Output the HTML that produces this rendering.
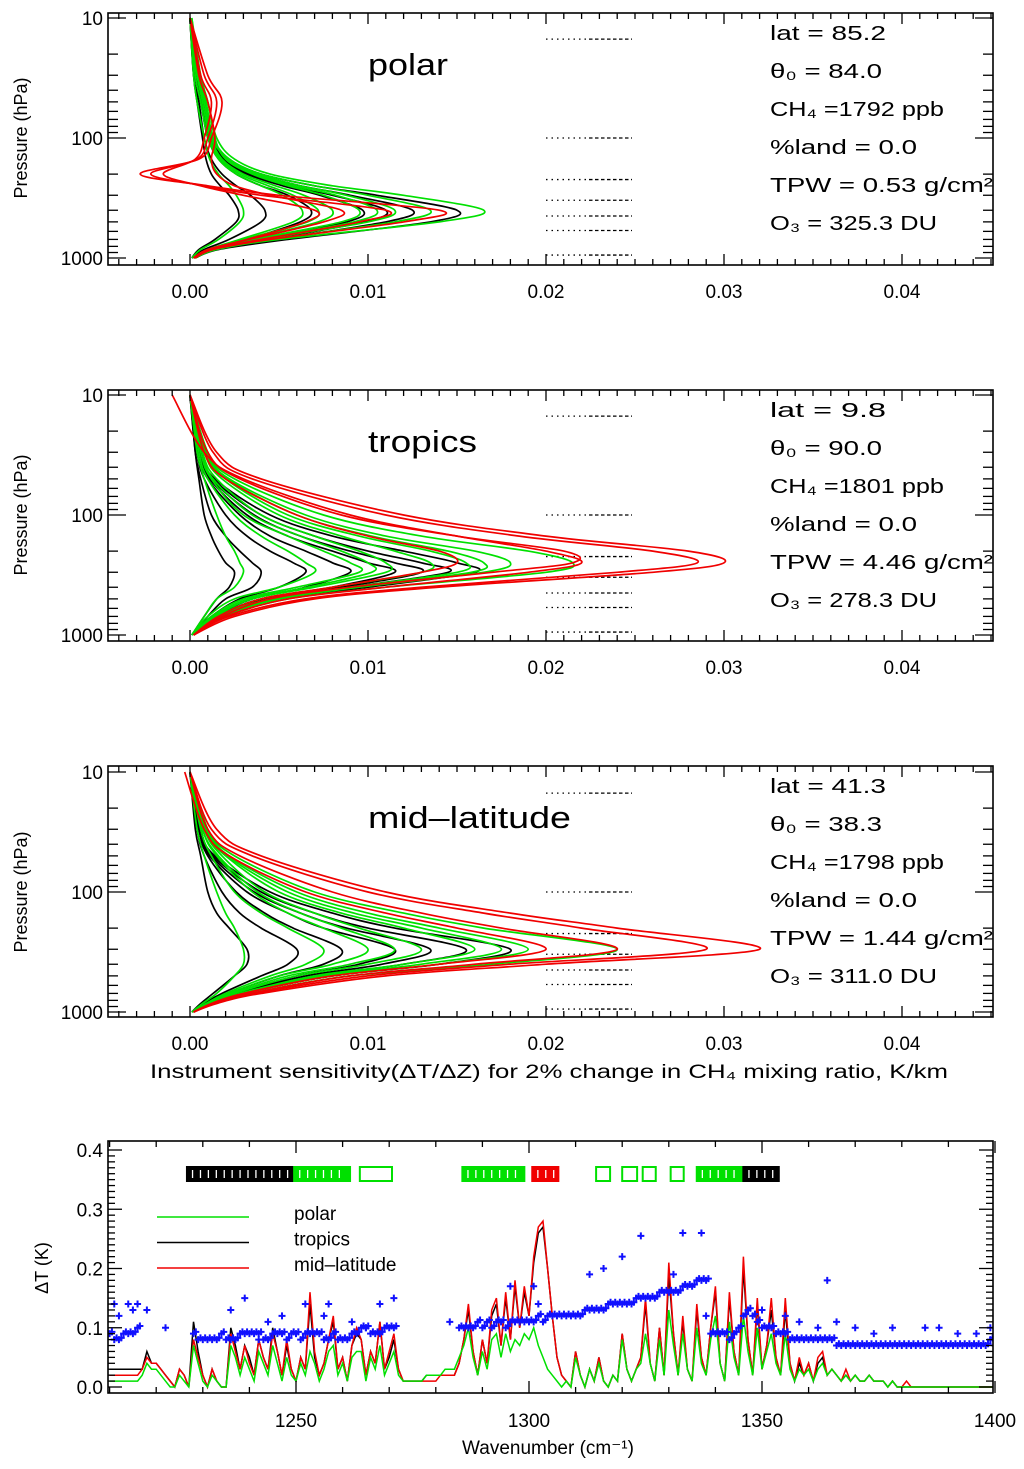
<!DOCTYPE html>
<html><head><meta charset="utf-8"><title>CH4 sensitivity</title>
<style>
html,body{margin:0;padding:0;background:#fff;}
svg{display:block;font-family:"Liberation Sans",sans-serif;}
text{fill:#000;}
</style></head>
<body>
<svg id="chart" xmlns="http://www.w3.org/2000/svg" width="1024" height="1469" viewBox="0 0 1024 1469"></svg>
<script>
// ---------------- DATA ----------------
const polarLevels=[10,30,50,100,150,200,250,300,400,500,700,850,1000];
const tropicsLevels=[10,30,50,100,150,200,250,300,400,500,700,1000];
const midlatLevels=[10,30,50,100,150,200,300,400,500,700,850,1000];

const polarGreen=[
[0,.0005,.0010,.0015,.0025,.0045,.0080,.0120,.0165,.0140,.0050,.0015,.0003],
[0,.0004,.0008,.0012,.0022,.0040,.0070,.0100,.0135,.0115,.0045,.0013,.0003],
[.0001,.0005,.0009,.0013,.0022,.0038,.0062,.0088,.0115,.0100,.0040,.0012,.0003],
[.0001,.0006,.0010,.0014,.0020,.0035,.0055,.0075,.0095,.0085,.0035,.0011,.0002],
[0,.0004,.0008,.0012,.0018,.0030,.0048,.0064,.0080,.0072,.0032,.0010,.0002],
[0,.0003,.0006,.0010,.0016,.0026,.0040,.0052,.0063,.0058,.0028,.0010,.0002],
[0,.0004,.0007,.0011,.0017,.0028,.0044,.0058,.0072,.0066,.0030,.0010,.0002],
[0,.0005,.0009,.0013,.0021,.0036,.0058,.0082,.0105,.0092,.0038,.0012,.0002],
[0,.0002,.0004,.0008,.0011,.0016,.0022,.0026,.0030,.0028,.0016,.0006,.0001]];
const polarBlack=[
[0,.0003,.0008,.0013,.0022,.0040,.0070,.0105,.0150,.0135,.0055,.0016,.0003],
[0,.0004,.0008,.0012,.0020,.0037,.0062,.0090,.0125,.0110,.0048,.0014,.0003],
[0,.0003,.0007,.0011,.0018,.0032,.0052,.0073,.0097,.0088,.0040,.0012,.0002],
[0,.0004,.0007,.0011,.0019,.0034,.0056,.0080,.0110,.0098,.0044,.0013,.0002],
[0,.0003,.0006,.0010,.0016,.0026,.0040,.0055,.0068,.0062,.0032,.0010,.0002],
[0,.0002,.0005,.0008,.0012,.0018,.0026,.0034,.0042,.0040,.0022,.0008,.0001],
[0,.0002,.0004,.0007,.0009,.0012,.0017,.0022,.0027,.0026,.0014,.0005,.0001]];
const polarRed=[
[0,.0010,.0018,.0012,.0005,-.0028,.0010,.0050,.0140,.0120,.0045,.0013,.0003],
[0,.0008,.0015,.0010,.0004,-.0022,.0008,.0040,.0110,.0095,.0040,.0011,.0002],
[0,.0006,.0012,.0008,.0003,-.0015,.0006,.0030,.0070,.0065,.0032,.0010,.0002],
[0,.0005,.0010,.0014,.0012,.0015,.0025,.0045,.0085,.0075,.0033,.0010,.0002]];

const tropicsRed=[
[0.0000,0.0015,0.0040,0.0120,0.0200,0.0280,0.0300,0.0260,0.0140,0.0070,0.0025,0.0002],
[0.0000,0.0013,0.0035,0.0110,0.0185,0.0260,0.0285,0.0240,0.0130,0.0065,0.0022,0.0002],
[-0.0010,0.0008,0.0030,0.0090,0.0150,0.0200,0.0220,0.0190,0.0110,0.0055,0.0020,0.0002],
[0.0000,0.0010,0.0028,0.0085,0.0150,0.0210,0.0215,0.0170,0.0090,0.0045,0.0018,0.0002],
[0.0000,0.0008,0.0020,0.0060,0.0100,0.0140,0.0150,0.0130,0.0080,0.0040,0.0016,0.0002]];
const tropicsGreen=[
[0.0000,0.0010,0.0025,0.0075,0.0130,0.0190,0.0215,0.0200,0.0110,0.0055,0.0020,0.0002],
[0.0000,0.0010,0.0022,0.0065,0.0110,0.0160,0.0180,0.0165,0.0095,0.0050,0.0018,0.0002],
[0.0000,0.0008,0.0020,0.0055,0.0095,0.0135,0.0155,0.0150,0.0090,0.0045,0.0016,0.0002],
[0.0000,0.0009,0.0021,0.0060,0.0102,0.0145,0.0165,0.0158,0.0092,0.0047,0.0017,0.0002],
[0.0000,0.0008,0.0018,0.0050,0.0085,0.0115,0.0135,0.0130,0.0080,0.0040,0.0015,0.0002],
[0.0000,0.0007,0.0015,0.0040,0.0070,0.0095,0.0110,0.0110,0.0070,0.0035,0.0014,0.0002],
[0.0000,0.0007,0.0013,0.0035,0.0062,0.0085,0.0100,0.0102,0.0066,0.0033,0.0013,0.0002],
[0.0000,0.0006,0.0012,0.0030,0.0055,0.0075,0.0090,0.0095,0.0060,0.0030,0.0012,0.0001],
[0.0000,0.0005,0.0010,0.0025,0.0040,0.0055,0.0065,0.0070,0.0050,0.0025,0.0010,0.0001],
[0.0000,0.0004,0.0008,0.0015,0.0020,0.0025,0.0028,0.0030,0.0025,0.0015,0.0008,0.0001]];
const tropicsBlack=[
[0.0000,0.0006,0.0014,0.0045,0.0080,0.0120,0.0150,0.0160,0.0100,0.0050,0.0018,0.0002],
[0.0000,0.0006,0.0013,0.0040,0.0070,0.0100,0.0130,0.0145,0.0090,0.0045,0.0016,0.0002],
[0.0000,0.0006,0.0012,0.0036,0.0062,0.0090,0.0115,0.0130,0.0085,0.0042,0.0016,0.0002],
[0.0000,0.0005,0.0011,0.0032,0.0055,0.0080,0.0100,0.0115,0.0080,0.0040,0.0015,0.0002],
[0.0000,0.0005,0.0010,0.0028,0.0045,0.0065,0.0080,0.0090,0.0065,0.0035,0.0014,0.0002],
[0.0000,0.0004,0.0008,0.0020,0.0032,0.0045,0.0058,0.0065,0.0050,0.0028,0.0012,0.0001],
[0.0000,0.0003,0.0006,0.0012,0.0020,0.0028,0.0035,0.0040,0.0035,0.0020,0.0010,0.0001],
[0.0000,0.0003,0.0005,0.0008,0.0012,0.0016,0.0020,0.0025,0.0022,0.0015,0.0008,0.0001]];

const midlatRed=[
[0.0000,0.0015,0.0040,0.0110,0.0180,0.0240,0.0320,0.0200,0.0110,0.0040,0.0015,0.0002],
[0.0000,0.0012,0.0035,0.0100,0.0165,0.0220,0.0290,0.0180,0.0100,0.0036,0.0014,0.0002],
[0.0000,0.0010,0.0028,0.0080,0.0130,0.0175,0.0240,0.0160,0.0090,0.0034,0.0013,0.0002],
[-0.0003,0.0008,0.0022,0.0065,0.0110,0.0150,0.0200,0.0140,0.0080,0.0030,0.0012,0.0002]];
const midlatGreen=[
[0.0000,0.0010,0.0025,0.0070,0.0120,0.0165,0.0240,0.0170,0.0090,0.0034,0.0013,0.0002],
[0.0000,0.0010,0.0022,0.0060,0.0100,0.0140,0.0190,0.0140,0.0080,0.0030,0.0012,0.0002],
[0.0000,0.0009,0.0021,0.0055,0.0092,0.0130,0.0175,0.0130,0.0075,0.0029,0.0012,0.0002],
[0.0000,0.0008,0.0020,0.0050,0.0085,0.0120,0.0160,0.0120,0.0070,0.0028,0.0011,0.0002],
[0.0000,0.0008,0.0018,0.0042,0.0070,0.0095,0.0130,0.0100,0.0060,0.0025,0.0010,0.0002],
[0.0000,0.0007,0.0016,0.0038,0.0062,0.0085,0.0115,0.0090,0.0055,0.0024,0.0010,0.0002],
[0.0000,0.0007,0.0015,0.0035,0.0055,0.0075,0.0100,0.0080,0.0050,0.0022,0.0010,0.0001],
[0.0000,0.0006,0.0012,0.0025,0.0040,0.0055,0.0075,0.0065,0.0045,0.0020,0.0009,0.0001],
[0.0000,0.0004,0.0008,0.0015,0.0020,0.0025,0.0030,0.0030,0.0025,0.0015,0.0007,0.0001]];
const midlatBlack=[
[0.0000,0.0006,0.0014,0.0045,0.0080,0.0115,0.0180,0.0140,0.0080,0.0030,0.0012,0.0002],
[0.0000,0.0006,0.0013,0.0040,0.0070,0.0100,0.0155,0.0120,0.0070,0.0028,0.0011,0.0002],
[0.0000,0.0006,0.0012,0.0036,0.0062,0.0088,0.0135,0.0108,0.0065,0.0026,0.0010,0.0002],
[0.0000,0.0005,0.0011,0.0032,0.0055,0.0075,0.0115,0.0095,0.0060,0.0025,0.0010,0.0002],
[0.0000,0.0005,0.0010,0.0026,0.0042,0.0058,0.0085,0.0075,0.0050,0.0022,0.0009,0.0001],
[0.0000,0.0004,0.0008,0.0018,0.0028,0.0040,0.0060,0.0055,0.0040,0.0018,0.0008,0.0001],
[0.0000,0.0003,0.0006,0.0010,0.0015,0.0022,0.0032,0.0032,0.0025,0.0013,0.0006,0.0001]];

const refPressures=[15,100,222,330,447,590,945];
const xTickLabels=["0.00","0.01","0.02","0.03","0.04"];
const xTickValues=[0,0.01,0.02,0.03,0.04];
const pTickLabels=["10","100","1000"];
const pTickValues=[10,100,1000];

const polarInfo=["lat = 85.2","θ₀ = 84.0","CH₄ =1792 ppb","%land =   0.0","TPW =  0.53 g/cm²","O₃ = 325.3 DU"];
const tropicsInfo=["lat =   9.8","θ₀ = 90.0","CH₄ =1801 ppb","%land =   0.0","TPW =  4.46 g/cm²","O₃ = 278.3 DU"];
const midlatInfo=["lat = 41.3","θ₀ = 38.3","CH₄ =1798 ppb","%land =   0.0","TPW =  1.44 g/cm²","O₃ = 311.0 DU"];

// spectrum: wavenumber 1210..1400 step 1
const specStart=1210;
const specRed=[.02,.02,.02,.02,.02,.02,.02,.03,.05,.04,
.04,.03,.02,.01,.00,.03,.02,.00,.08,.05,
.02,.00,.03,.01,.00,.00,.09,.06,.03,.07,
.04,.02,.08,.05,.03,.09,.06,.02,.08,.03,
.01,.05,.03,.16,.06,.02,.04,.08,.12,.03,
.05,.01,.07,.10,.08,.02,.06,.04,.11,.03,
.06,.09,.03,.01,.01,.01,.01,.01,.01,.01,
.01,.02,.02,.02,.02,.04,.08,.14,.06,.02,
.08,.04,.13,.15,.07,.16,.08,.18,.10,.17,
.12,.22,.27,.28,.20,.12,.05,.02,.01,.00,
.06,.02,.00,.03,.01,.05,.01,.00,.02,.01,
.09,.03,.01,.03,.05,.15,.04,.01,.10,.02,
.21,.09,.02,.12,.03,.01,.14,.05,.02,.10,
.17,.04,.01,.16,.06,.02,.22,.08,.02,.15,
.03,.07,.15,.05,.02,.15,.04,.01,.05,.02,
.04,.01,.05,.06,.02,.03,.02,.01,.03,.01,
.02,.01,.01,.02,.01,.01,.01,.00,.01,.00,
.00,.01,.00,.00,.00,.00,.00,.00,.00,.00,
.00,.00,.00,.00,.00,.00,.00,.00,.00,.00,.00];
const specBlack=[.03,.03,.03,.03,.03,.03,.03,.03,.06,.04,
.04,.03,.02,.01,.00,.03,.02,.00,.11,.06,
.02,.00,.03,.01,.00,.00,.10,.07,.03,.07,
.05,.02,.08,.05,.03,.10,.06,.02,.07,.03,
.01,.05,.03,.14,.05,.02,.04,.08,.11,.03,
.05,.01,.07,.09,.08,.02,.06,.04,.11,.03,
.05,.08,.03,.01,.01,.01,.01,.01,.02,.02,
.02,.02,.02,.02,.02,.04,.08,.13,.06,.02,
.08,.04,.12,.14,.07,.15,.08,.17,.10,.16,
.12,.21,.26,.27,.20,.12,.05,.02,.01,.00,
.06,.02,.00,.03,.01,.05,.01,.00,.02,.01,
.09,.03,.01,.03,.05,.14,.04,.01,.10,.02,
.19,.09,.02,.11,.03,.01,.13,.05,.02,.10,
.16,.04,.01,.15,.06,.02,.20,.08,.02,.14,
.03,.07,.13,.05,.02,.13,.04,.01,.04,.02,
.04,.01,.04,.05,.02,.03,.02,.01,.02,.01,
.02,.01,.01,.02,.01,.01,.01,.00,.01,.00,
.00,.00,.00,.00,.00,.00,.00,.00,.00,.00,
.00,.00,.00,.00,.00,.00,.00,.00,.00,.00,.00];
const specGreen=[.01,.01,.01,.01,.01,.01,.01,.02,.04,.03,
.03,.02,.01,.00,.00,.02,.01,.00,.07,.04,
.01,.00,.02,.01,.00,.00,.07,.05,.02,.05,
.03,.01,.06,.04,.02,.07,.04,.01,.05,.02,
.01,.04,.02,.06,.04,.01,.03,.06,.07,.02,
.04,.01,.05,.06,.06,.01,.05,.03,.07,.02,
.04,.06,.02,.01,.01,.01,.01,.01,.02,.02,
.02,.02,.03,.03,.03,.05,.07,.10,.05,.02,
.06,.03,.08,.09,.05,.09,.06,.08,.07,.09,
.08,.10,.07,.05,.03,.02,.01,.00,.01,.00,
.05,.02,.00,.03,.01,.04,.01,.00,.02,.01,
.08,.03,.01,.03,.04,.09,.04,.01,.08,.02,
.13,.07,.02,.09,.03,.01,.10,.04,.02,.08,
.12,.04,.01,.11,.05,.02,.12,.06,.02,.10,
.03,.06,.09,.04,.02,.09,.03,.01,.03,.02,
.03,.01,.03,.04,.02,.03,.02,.01,.02,.01,
.02,.01,.01,.02,.01,.01,.01,.00,.01,.00,
.00,.00,.00,.00,.00,.00,.00,.00,.00,.00,
.00,.00,.00,.00,.00,.00,.00,.00,.00,.00,.00];
const n=null;
const blueBand=[.09,.08,.08,.09,.09,.09,.10,n,n,n,
n,n,n,n,n,n,n,n,.09,.08,
.08,.08,.08,.08,.09,.08,.08,.08,.09,.09,
.09,.09,.09,.08,.08,.09,.09,.09,.08,.09,
.09,.08,.09,.09,.09,.09,.08,.08,.09,.08,
.08,.08,.09,.09,.10,.10,.09,.09,.09,.10,
.10,.10,n,n,n,n,n,n,n,n,
n,n,n,n,n,.10,.10,.10,.10,.11,
.10,.11,.10,.11,.11,.10,.11,.11,.11,.11,
.11,.11,.12,.11,.12,.12,.12,.12,.12,.12,
.12,.12,.13,.13,.13,.13,.13,.14,.14,.14,
.14,.14,.14,.15,.15,.15,.15,.15,.16,.16,
.16,.16,.16,.17,.17,.17,.18,.18,.18,.09,
.09,.09,.09,.08,.09,.10,.12,.13,.12,.11,
.10,.10,.10,.09,.09,.09,.08,.08,.08,.08,
.08,.08,.08,.08,.08,.08,.07,.07,.07,.07,
.07,.07,.07,.07,.07,.07,.07,.07,.07,.07,
.07,.07,.07,.07,.07,.07,.07,.07,.07,.07,
.07,.07,.07,.07,.07,.07,.07,.07,.07,.08,.07];
const blueOutW=[1211,1212,1214,1215,1216,1218,1222,1236,1239,1242,1244,1247,1252,1256,1257,1262,1265,1268,1271,1283,1296,1301,1302,1313,1316,1320,1324,1331,1333,1337,1338,1350,1355,1358,1362,1364,1366,1370,1374,1378,1385,1388,1392,1396,1399];
const blueOutV=[.14,.12,.14,.13,.14,.13,.10,.13,.15,.08,.11,.12,.14,.12,.14,.11,.10,.14,.15,.11,.17,.17,.14,.19,.20,.22,.255,.19,.26,.26,.12,.13,.12,.11,.10,.18,.11,.10,.09,.10,.10,.10,.09,.09,.10];
const chanStart=[1226.6,1249.6,1263.7,1285.7,1300.7,1314.4,1320.0,1324.4,1330.4,1336.0,1346.0];
const chanEnd=[1249.6,1261.6,1270.6,1299.0,1306.3,1317.4,1323.2,1327.2,1333.2,1346.0,1353.6];
const chanColor=["#000","#00e000","#00e000","#00e000","#f00000","#00e000","#00e000","#00e000","#00e000","#00e000","#000"];
const chanFilled=[1,1,0,1,1,0,0,0,0,1,1];
const specYTicks=["0.0","0.1","0.2","0.3","0.4"];
const specYValues=[0,0.1,0.2,0.3,0.4];
const specXTicks=["1250","1300","1350","1400"];
const specXValues=[1250,1300,1350,1400];

// ---------------- DRAWING ----------------
const NS="http://www.w3.org/2000/svg";
const svg=document.getElementById('chart');
function mk(tag,attrs,parent){const e=document.createElementNS(NS,tag);for(const k in attrs)e.setAttribute(k,attrs[k]);(parent||svg).appendChild(e);return e;}
const GREEN="#00e000", RED="#f00000", BLACK="#000";
const X0=108,X1=993;
function vx(v){return 190+v*17800;}

function smoothPath(pts){
  let d="M"+pts[0][0].toFixed(1)+","+pts[0][1].toFixed(1);
  for(let i=0;i<pts.length-1;i++){
    const p0=pts[Math.max(0,i-1)],p1=pts[i],p2=pts[i+1],p3=pts[Math.min(pts.length-1,i+2)];
    const c1x=p1[0]+(p2[0]-p0[0])/6,c1y=p1[1]+(p2[1]-p0[1])/6;
    const c2x=p2[0]-(p3[0]-p1[0])/6,c2y=p2[1]-(p3[1]-p1[1])/6;
    d+=" C"+c1x.toFixed(1)+","+c1y.toFixed(1)+" "+c2x.toFixed(1)+","+c2y.toFixed(1)+" "+p2[0].toFixed(1)+","+p2[1].toFixed(1);
  }
  return d;
}

const panels=[
 {key:"polar",top:13,bottom:265,y10:18,levels:polarLevels,black:polarBlack,green:polarGreen,red:polarRed,info:polarInfo,title:"polar",titleLen:80},
 {key:"tropics",top:390,bottom:641,y10:395,levels:tropicsLevels,black:tropicsBlack,green:tropicsGreen,red:tropicsRed,info:tropicsInfo,title:"tropics",titleLen:109},
 {key:"mid-latitude",top:766,bottom:1017,y10:772,levels:midlatLevels,black:midlatBlack,green:midlatGreen,red:midlatRed,info:midlatInfo,title:"mid\u2013latitude",titleLen:203}
];
const infoLens=[116,112,174,147,223,167];

panels.forEach((P,pi)=>{
  const py=p=>P.y10+(Math.log10(p)-1)*120;
  const g=mk('g',{});
  
  
  const cp=mk('clipPath',{id:'clip'+pi},g);
  mk('rect',{x:X0,y:P.top,width:X1-X0,height:P.bottom-P.top},cp);
  const cg=mk('g',{'clip-path':'url(#clip'+pi+')'},g);
  refPressures.forEach(p=>{
    const y=py(p);
    const a=mk('line',{x1:546,x2:589,y1:y,y2:y,stroke:'#000','stroke-width':1.3,'stroke-dasharray':'1.5,4'},cg);
    
    
    const b=mk('line',{x1:589,x2:632,y1:y,y2:y,stroke:'#000','stroke-width':1.3,'stroke-dasharray':'3.5,2.5'},cg);
    
    
  });
  const draw=(arr,col,name)=>{
    arr.forEach(vals=>{
      const pts=vals.map((v,i)=>[vx(v),py(P.levels[i])]);
      const path=mk('path',{d:smoothPath(pts),fill:'none',stroke:col,'stroke-width':1.7},cg);
      
      
    });
  };
  draw(P.black,BLACK,'tropics-profile-curve');
  draw(P.green,GREEN,'polar-profile-curve');
  draw(P.red,RED,'mid-latitude-profile-curve');
  const fr=mk('rect',{x:X0,y:P.top,width:X1-X0,height:P.bottom-P.top,fill:'none',stroke:'#000','stroke-width':1.6},g);
  
  
  for(let k=-4;k<=45;k++){
    const x=vx(k*0.001); if(x<X0||x>X1) continue;
    const len=(k%10===0)?11:6;
    const t1=mk('line',{x1:x,x2:x,y1:P.bottom,y2:P.bottom-len,stroke:'#000','stroke-width':1.3},g);
    
    
    const t2=mk('line',{x1:x,x2:x,y1:P.top,y2:P.top+len,stroke:'#000','stroke-width':1.3},g);
    
    
  }
  xTickValues.forEach((v,i)=>{
    const t=mk('text',{x:vx(v),y:P.bottom+33,'text-anchor':'middle','font-size':19},g);
    t.textContent=xTickLabels[i];
    
    
  });
  [10,100].forEach(dec=>{for(let m=1;m<=10;m++){
    const p=dec*m; if(p>1000) continue; if(m===10&&dec===10) continue;
    const y=py(p); const major=(m===1||p===1000);
    const len=major?18:10;
    const t1=mk('line',{x1:X0,x2:X0+len,y1:y,y2:y,stroke:'#000','stroke-width':1.3},g);
    
    
    const t2=mk('line',{x1:X1,x2:X1-len,y1:y,y2:y,stroke:'#000','stroke-width':1.3},g);
    
    
  }});
  pTickValues.forEach((p,i)=>{
    const t=mk('text',{x:103,y:py(p)+7,'text-anchor':'end','font-size':19},g);
    t.textContent=pTickLabels[i];
    
    
  });
  const yt=mk('text',{x:0,y:0,'text-anchor':'middle','font-size':18,transform:'translate(27,'+py(100)+') rotate(-90)'},g);
  yt.textContent='Pressure (hPa)';
  
  
  const tt=mk('text',{x:368,y:P.top+62,'font-size':31,textLength:P.titleLen,lengthAdjust:'spacingAndGlyphs'},g);
  tt.textContent=P.title;
  
  
  P.info.forEach((s,i)=>{
    const t=mk('text',{x:770,y:P.top+27+i*38,'font-size':20,textLength:infoLens[i],lengthAdjust:'spacingAndGlyphs','xml:space':'preserve'},g);
    t.textContent=s;
    
    
  });
});
const xt=mk('text',{x:150,y:1078,'font-size':19,textLength:798,lengthAdjust:'spacingAndGlyphs','xml:space':'preserve'});
xt.textContent='Instrument sensitivity(\u0394T/\u0394Z) for 2% change in CH\u2084 mixing ratio,  K/km';



// ---------------- SPECTRUM PANEL ----------------
const ST=1141,SB=1393;
function wx(w){return 296+(w-1250)*4.66;}
function sy(v){return 1387-v*592.5;}
const sg=mk('g',{});


const scp=mk('clipPath',{id:'clipS'},sg);
mk('rect',{x:X0,y:ST,width:X1-X0,height:SB-ST},scp);
const scg=mk('g',{'clip-path':'url(#clipS)'},sg);
chanStart.forEach((s,i)=>{
  const x1=wx(s),x2=wx(chanEnd[i]);
  const r=mk('rect',{x:x1,y:1167,width:x2-x1,height:14,fill:chanFilled[i]?chanColor[i]:'#fff',stroke:chanColor[i],'stroke-width':2},scg);
  
  
  if(chanFilled[i]){
    for(let w=s+1.2;w<chanEnd[i]-0.6;w+=1.7){
      const l=mk('line',{x1:wx(w),x2:wx(w),y1:1170,y2:1178,stroke:'#fff','stroke-width':1.3},scg);
      
      
    }
  }
});
function specLine(arr,col,name){
  const pts=arr.map((v,i)=>wx(specStart+i).toFixed(1)+','+sy(v).toFixed(1)).join(' ');
  const pl=mk('polyline',{points:pts,fill:'none',stroke:col,'stroke-width':1.5},scg);
  
  
}
specLine(specBlack,BLACK,'tropics-spectrum-line');
specLine(specRed,RED,'mid-latitude-spectrum-line');
specLine(specGreen,GREEN,'polar-spectrum-line');
function cross(w,v){
  const x=wx(w),y=sy(v);
  const c=mk('path',{d:'M'+(x-3.5)+','+y+'h7M'+x+','+(y-3.5)+'v7',stroke:'#1010ff','stroke-width':2},scg);
  
  
}
blueBand.forEach((v,i)=>{ if(v!==null){ cross(specStart+i,v); cross(specStart+i+0.5,v+0.003);} });
blueOutW.forEach((w,i)=>cross(w,blueOutV[i]));
const sfr=mk('rect',{x:X0,y:ST,width:X1-X0,height:SB-ST,fill:'none',stroke:'#000','stroke-width':1.6},sg);


for(let w=1210;w<=1400;w+=10){
  const len=(w%50===0)?12:6;
  const a=mk('line',{x1:wx(w),x2:wx(w),y1:SB,y2:SB-len,stroke:'#000','stroke-width':1.3},sg);
  
  
  const b=mk('line',{x1:wx(w),x2:wx(w),y1:ST,y2:ST+len,stroke:'#000','stroke-width':1.3},sg);
  
  
}
for(let k=0;k<=40;k++){
  const y=sy(k*0.01); const len=(k%10===0)?14:7;
  const a=mk('line',{x1:X0,x2:X0+len,y1:y,y2:y,stroke:'#000','stroke-width':1.3},sg);
  
  
  const b=mk('line',{x1:X1,x2:X1-len,y1:y,y2:y,stroke:'#000','stroke-width':1.3},sg);
  
  
}
specYValues.forEach((v,i)=>{
  const t=mk('text',{x:103,y:sy(v)+7,'text-anchor':'end','font-size':19},sg);
  t.textContent=specYTicks[i];
  
  
});
specXValues.forEach((v,i)=>{
  const t=mk('text',{x:wx(v),y:1427,'text-anchor':'middle','font-size':19},sg);
  t.textContent=specXTicks[i];
  
  
});
const sx=mk('text',{x:548,y:1454,'text-anchor':'middle','font-size':19},sg);
sx.textContent='Wavenumber (cm\u207B\u00B9)';


const syt=mk('text',{x:0,y:0,'text-anchor':'middle','font-size':18,transform:'translate(48,1268) rotate(-90)'},sg);
syt.textContent='\u0394T (K)';


const legNames=['polar','tropics','mid\u2013latitude'];
const legColors=[GREEN,BLACK,RED];
legNames.forEach((s,i)=>{
  const y=1217+i*25.5;
  const l=mk('line',{x1:157,x2:249,y1:y,y2:y,stroke:legColors[i],'stroke-width':1.6},sg);
  
  
  const t=mk('text',{x:294,y:y+3,'font-size':19},sg);
  t.textContent=s;
  
  
});
</script>
</body></html>
